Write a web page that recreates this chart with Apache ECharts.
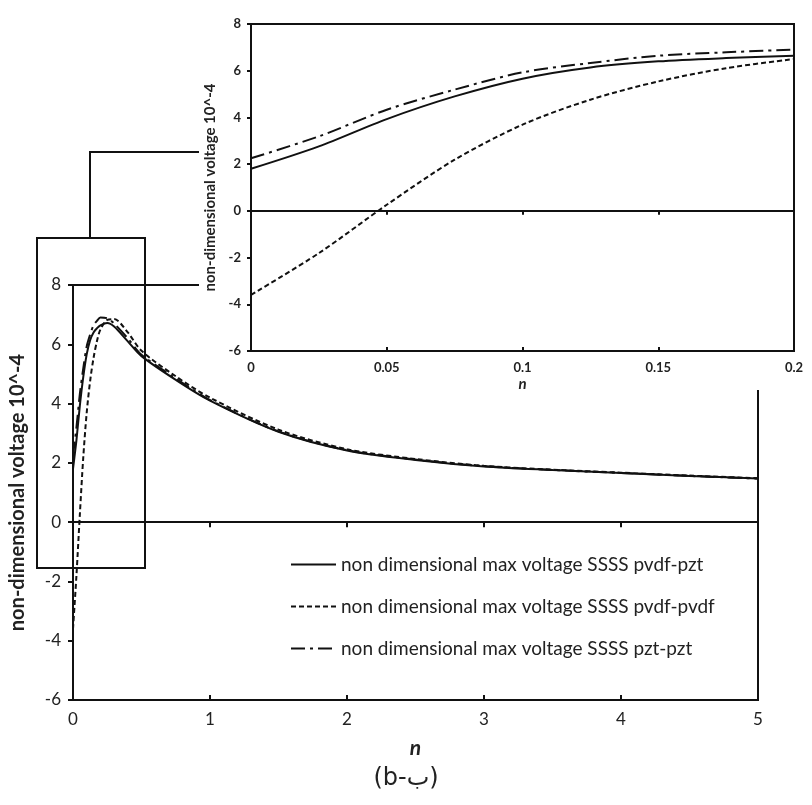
<!DOCTYPE html>
<html><head><meta charset="utf-8">
<script src="https://cdn.jsdelivr.net/npm/echarts@6/dist/echarts.min.js"></script>
<style>html,body{margin:0;padding:0;background:#fff}#c{width:812px;height:805px}</style>
</head><body><div id="c"></div>
<script>
// ---- data ----
const nValues = [0, 0.025, 0.05, 0.075, 0.1, 0.125, 0.15, 0.175, 0.2, 0.25, 0.3, 0.4, 0.5, 0.75, 1, 1.5, 2, 2.5, 3, 3.5, 4, 4.5, 5];
const pvdfPzt  = [1.8, 2.76, 3.93, 4.9, 5.66, 6.14, 6.4, 6.54, 6.64, 6.72, 6.6, 6.1, 5.6, 4.8, 4.1, 3.05, 2.42, 2.1, 1.88, 1.76, 1.66, 1.56, 1.47];
const pvdfPvdf = [-3.6, -1.81, 0.26, 2.19, 3.69, 4.76, 5.54, 6.11, 6.5, 6.82, 6.85, 6.4, 5.78, 4.92, 4.2, 3.12, 2.46, 2.13, 1.9, 1.77, 1.67, 1.57, 1.48];
const pztPzt   = [2.25, 3.19, 4.33, 5.19, 5.93, 6.33, 6.64, 6.79, 6.9, 6.88, 6.7, 6.2, 5.65, 4.85, 4.12, 3.06, 2.43, 2.11, 1.89, 1.76, 1.66, 1.56, 1.47];
const seriesNames = [
  'non dimensional max voltage SSSS pvdf-pzt',
  'non dimensional max voltage SSSS pvdf-pvdf',
  'non dimensional max voltage SSSS pzt-pzt'
];
const yAxisTitle = 'non-dimensional voltage 10^-4';
const xAxisTitle = 'n';
const caption = '(b-ب)';
const insetMaxN = 0.2;

// ---- build ----
const pair = (xs, ys) => xs.map((x, i) => [x, ys[i]]);
const insetCount = nValues.filter(v => v <= insetMaxN).length;
const inset = arr => arr.slice(0, insetCount);

const FONT = 'Lato, "Open Sans", sans-serif';
const BLACK = '#111';
const styles = [
  { type: 'solid' },
  { type: [5, 3] },
  { type: [14, 5, 3, 5] }
];
const ys = [pvdfPzt, pvdfPvdf, pztPzt];

const chart = echarts.init(document.getElementById('c'), null, { renderer: 'canvas' });

const baseAxis = {
  axisLine: { lineStyle: { color: BLACK, width: 2 } },
  splitLine: { show: false }
};

const option = {
  backgroundColor: '#fff',
  animation: false,
  grid: [
    { left: 73, right: 54, top: 285, bottom: 105, show: true, borderColor: BLACK, borderWidth: 2, backgroundColor: 'transparent', z: 1 },
    { left: 251, right: 18, top: 24, bottom: 454, show: true, borderColor: BLACK, borderWidth: 2, backgroundColor: 'transparent', z: 11 }
  ],
  xAxis: [
    Object.assign({}, baseAxis, { gridIndex: 0, type: 'value', min: 0, max: 5, interval: 1, position: 'bottom', z: 2,
      axisLine: { onZero: false, lineStyle: { color: BLACK, width: 2 } },
      axisTick: { show: false },
      axisLabel: { color: '#222', fontFamily: FONT, fontSize: 17, margin: 11 },
      name: xAxisTitle, nameLocation: 'middle', nameGap: 38,
      nameTextStyle: { fontFamily: FONT, fontStyle: 'italic', fontWeight: 'bold', fontSize: 21, color: '#222' } }),
    Object.assign({}, baseAxis, { gridIndex: 0, type: 'value', min: 0, max: 5, interval: 1, position: 'bottom', z: 2,
      axisLine: { onZero: true, lineStyle: { color: BLACK, width: 2 } },
      axisTick: { show: true, length: 5, lineStyle: { color: BLACK, width: 2 } },
      axisLabel: { show: false } }),
    Object.assign({}, baseAxis, { gridIndex: 0, type: 'value', min: 0, max: 5, interval: 1, position: 'bottom', z: 2,
      axisLine: { onZero: true, lineStyle: { color: BLACK, width: 2 } },
      axisTick: { show: true, inside: true, length: 5, lineStyle: { color: BLACK, width: 2 } },
      axisLabel: { show: false } }),
    Object.assign({}, baseAxis, { gridIndex: 1, type: 'value', min: 0, max: 0.2, interval: 0.05, position: 'bottom', z: 12,
      axisLine: { onZero: false, lineStyle: { color: BLACK, width: 2 } },
      axisTick: { show: false },
      axisLabel: { color: '#222', fontFamily: FONT, fontSize: 13, fontWeight: 'bold', margin: 10 },
      name: xAxisTitle, nameLocation: 'middle', nameGap: 26,
      nameTextStyle: { fontFamily: FONT, fontStyle: 'italic', fontWeight: 'bold', fontSize: 15, color: '#222' } }),
    Object.assign({}, baseAxis, { gridIndex: 1, type: 'value', min: 0, max: 0.2, interval: 0.05, position: 'bottom', z: 12,
      axisLine: { onZero: true, lineStyle: { color: BLACK, width: 2 } },
      axisTick: { show: true, length: 4, lineStyle: { color: BLACK, width: 2 } },
      axisLabel: { show: false } }),
    Object.assign({}, baseAxis, { gridIndex: 1, type: 'value', min: 0, max: 0.2, interval: 0.05, position: 'bottom', z: 12,
      axisLine: { onZero: true, lineStyle: { color: BLACK, width: 2 } },
      axisTick: { show: true, inside: true, length: 4, lineStyle: { color: BLACK, width: 2 } },
      axisLabel: { show: false } })
  ],
  yAxis: [
    Object.assign({}, baseAxis, { gridIndex: 0, type: 'value', min: -6, max: 8, interval: 2, z: 2,
      axisLine: { show: true, onZero: false, lineStyle: { color: BLACK, width: 2 } },
      axisTick: { show: true, length: 5, lineStyle: { color: BLACK, width: 2 } },
      axisLabel: { color: '#222', fontFamily: FONT, fontSize: 17, margin: 12 },
      name: yAxisTitle, nameLocation: 'middle', nameGap: 45, nameRotate: 90,
      nameTextStyle: { fontFamily: FONT, fontWeight: 'bold', fontSize: 20, color: '#222' } }),
    Object.assign({}, baseAxis, { gridIndex: 1, type: 'value', min: -6, max: 8, interval: 2, z: 12,
      axisLine: { show: true, onZero: false, lineStyle: { color: BLACK, width: 2 } },
      axisTick: { show: true, length: 4, lineStyle: { color: BLACK, width: 2 } },
      axisLabel: { color: '#222', fontFamily: FONT, fontSize: 13, fontWeight: 'bold', margin: 10 },
      name: yAxisTitle, nameLocation: 'middle', nameGap: 32, nameRotate: 90,
      nameTextStyle: { fontFamily: FONT, fontWeight: 'bold', fontSize: 15, color: '#222' } })
  ],
  legend: {
    orient: 'vertical', left: 285, top: 550, itemWidth: 45, itemHeight: 14, itemGap: 23,
    textStyle: { fontFamily: FONT, fontSize: 19, color: '#222' },
    itemStyle: { opacity: 0 },
    data: seriesNames.map(n => ({ name: n })),
    selectedMode: false
  },
  series: [],
  graphic: [
    { type: 'rect', z: 5, shape: { x: 37, y: 238, width: 108, height: 330 },
      style: { fill: 'none', stroke: BLACK, lineWidth: 2 } },
    { type: 'polyline', z: 5, shape: { points: [[90, 238], [90, 152], [202, 152]] },
      style: { fill: 'none', stroke: BLACK, lineWidth: 2 } },
    { type: 'rect', z: 10, shape: { x: 199, y: 0, width: 613, height: 390 },
      style: { fill: '#fff', stroke: 'none' } },
    { type: 'text', z: 20, left: 'center', top: 767,
      style: { text: caption, font: '24px "DejaVu Sans", sans-serif', fill: '#222' } }
  ]
};

ys.forEach((arr, i) => {
  option.series.push({
    name: seriesNames[i], type: 'line', xAxisIndex: 0, yAxisIndex: 0,
    data: pair(nValues, arr), symbol: 'none', smooth: 0.3, z: 3,
    lineStyle: Object.assign({ color: BLACK, width: 2 }, styles[i]),
    itemStyle: { color: BLACK }
  });
});
ys.forEach((arr, i) => {
  option.series.push({
    name: seriesNames[i], type: 'line', xAxisIndex: 3, yAxisIndex: 1,
    data: pair(inset(nValues), inset(arr)), symbol: 'none', smooth: 0.3, z: 13,
    lineStyle: Object.assign({ color: BLACK, width: 2 }, styles[i]),
    itemStyle: { color: BLACK }
  });
});

chart.setOption(option);
</script></body></html>
